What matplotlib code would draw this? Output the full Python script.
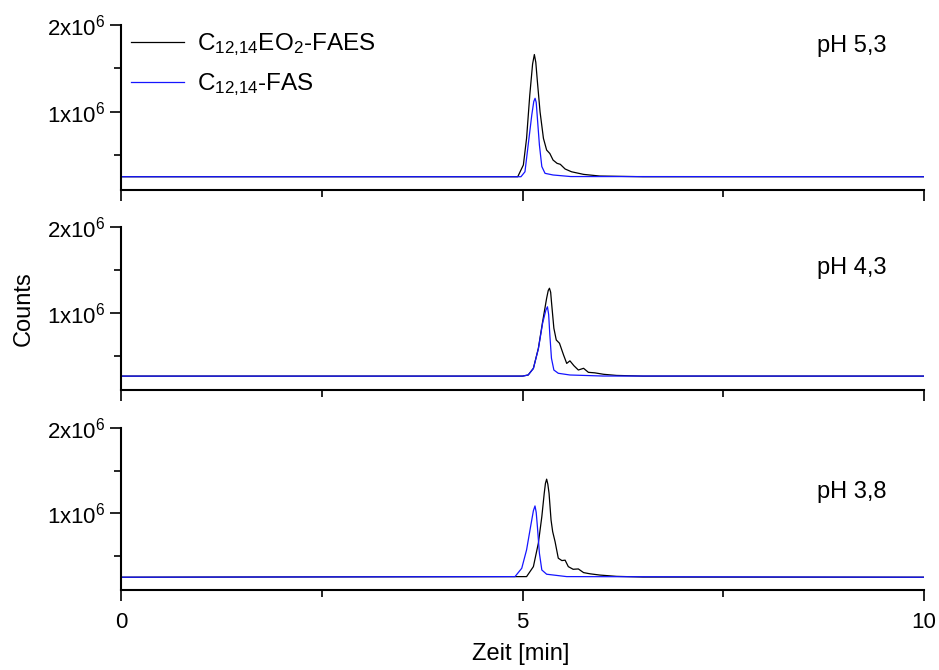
import numpy as np
import matplotlib
matplotlib.use("Agg")
import matplotlib.pyplot as plt
from matplotlib.ticker import MultipleLocator, FixedLocator, FixedFormatter

plt.rcParams['font.family'] = ['Liberation Sans', 'DejaVu Sans']
plt.rcParams['mathtext.fontset'] = 'custom'
plt.rcParams['mathtext.rm'] = 'Liberation Sans'
plt.rcParams['mathtext.default'] = 'regular'

SCALE = 1e6

# pH 5,3
faes_53_t = [0, 4.94, 5.01, 5.05, 5.09, 5.125, 5.147, 5.165, 5.185, 5.218, 5.26, 5.30, 5.34, 5.38, 5.43, 5.47, 5.53, 5.61, 5.76, 5.96, 6.5, 10]
faes_53_c = [0.253, 0.253, 0.388, 0.695, 1.194, 1.55, 1.66, 1.57, 1.347, 1.0, 0.695, 0.56, 0.52, 0.445, 0.407, 0.396, 0.342, 0.31, 0.28, 0.261, 0.253, 0.253]
fas_53_t = [0, 4.98, 5.03, 5.07, 5.115, 5.14, 5.156, 5.17, 5.185, 5.21, 5.24, 5.28, 5.38, 5.6, 10]
fas_53_c = [0.253, 0.253, 0.31, 0.618, 0.964, 1.12, 1.156, 1.11, 0.925, 0.618, 0.37, 0.292, 0.273, 0.255, 0.253]

# pH 4,3
faes_43_t = [0, 5.0, 5.07, 5.135, 5.197, 5.25, 5.30, 5.32, 5.335, 5.35, 5.36, 5.39, 5.42, 5.46, 5.51, 5.55, 5.59, 5.64, 5.695, 5.76, 5.82, 5.90, 6.01, 6.17, 6.5, 10]
faes_43_c = [0.262, 0.262, 0.275, 0.353, 0.586, 0.896, 1.17, 1.26, 1.286, 1.24, 1.13, 0.82, 0.683, 0.645, 0.51, 0.41, 0.44, 0.383, 0.333, 0.353, 0.306, 0.30, 0.283, 0.27, 0.262, 0.262]
fas_43_t = [0, 5.0, 5.07, 5.135, 5.197, 5.25, 5.29, 5.31, 5.325, 5.34, 5.36, 5.39, 5.445, 5.59, 6.0, 10]
fas_43_c = [0.262, 0.262, 0.275, 0.35, 0.58, 0.88, 1.03, 1.07, 0.98, 0.74, 0.47, 0.333, 0.295, 0.275, 0.263, 0.262]

# pH 3,8
faes_38_t = [0, 5.05, 5.135, 5.197, 5.24, 5.27, 5.285, 5.30, 5.315, 5.33, 5.355, 5.375, 5.405, 5.445, 5.49, 5.53, 5.57, 5.63, 5.695, 5.76, 5.84, 5.965, 6.17, 6.5, 10]
faes_38_c = [0.25, 0.257, 0.374, 0.65, 0.96, 1.234, 1.35, 1.40, 1.34, 1.234, 0.92, 0.785, 0.667, 0.473, 0.445, 0.45, 0.374, 0.343, 0.347, 0.304, 0.29, 0.275, 0.26, 0.252, 0.25]
fas_38_t = [0, 4.906, 4.99, 5.05, 5.10, 5.135, 5.155, 5.17, 5.185, 5.21, 5.24, 5.30, 5.55, 10]
fas_38_c = [0.25, 0.257, 0.355, 0.57, 0.843, 1.03, 1.086, 1.01, 0.843, 0.53, 0.335, 0.285, 0.257, 0.25]

panel_labels = ['pH 5,3', 'pH 4,3', 'pH 3,8']
series = [
    (faes_53_t, faes_53_c, fas_53_t, fas_53_c),
    (faes_43_t, faes_43_c, fas_43_t, fas_43_c),
    (faes_38_t, faes_38_c, fas_38_t, fas_38_c),
]
label_y = [0.875, 0.75, 0.605]
legend_names = [r'C$_{12{,}14}$EO$_2$-FAES', r'C$_{12{,}14}$-FAS']
ytick_vals = [1e6, 2e6]
ytick_text = [r'1x10$^6$', r'2x10$^6$']

fig = plt.figure(figsize=(9.39, 6.70), dpi=100)
boxes = [(0.129, 0.7164, 0.855, 0.2463),
         (0.129, 0.4179, 0.855, 0.2433),
         (0.129, 0.1194, 0.855, 0.2418)]

axes = []
for i, (box, (t1, c1, t2, c2)) in enumerate(zip(boxes, series)):
    ax = fig.add_axes(box)
    axes.append(ax)
    l1, = ax.plot(t1, np.array(c1) * SCALE, color='black', lw=0.9)
    l2, = ax.plot(t2, np.array(c2) * SCALE, color='#1515ff', lw=0.9)
    ax.set_xlim(0, 10)
    ax.set_ylim(0.1e6, 2e6)
    for s in ['top', 'right']:
        ax.spines[s].set_visible(False)
    for s in ['left', 'bottom']:
        ax.spines[s].set_linewidth(1.5)
    ax.xaxis.set_major_locator(MultipleLocator(5))
    ax.xaxis.set_minor_locator(MultipleLocator(2.5))
    ax.yaxis.set_major_locator(FixedLocator(ytick_vals))
    ax.yaxis.set_major_formatter(FixedFormatter(ytick_text))
    ax.yaxis.set_minor_locator(FixedLocator([0.5e6, 1.5e6]))
    ax.tick_params(which='major', length=8, width=1.2, direction='out', labelsize=16)
    ax.tick_params(axis='x', which='major', pad=8)
    ax.tick_params(which='minor', length=5, width=1.2, direction='out')
    if i < 2:
        ax.tick_params(axis='x', labelbottom=False)
    ax.text(0.91, label_y[i], panel_labels[i], transform=ax.transAxes,
            ha='center', va='center', fontsize=17)
    if i == 0:
        ax.legend([l1, l2], legend_names, loc='upper left', bbox_to_anchor=(-0.006, 1.05),
                  frameon=False, fontsize=17.5, handlelength=2.2, handletextpad=0.5,
                  labelspacing=0.55, borderaxespad=0.2)

fig.text(0.555, 0.024, 'Zeit [min]', ha='center', va='center', fontsize=17)
fig.text(0.025, 0.54, 'Counts', rotation=90, ha='center', va='center', fontsize=17)

fig.savefig('out.png', dpi=100)
